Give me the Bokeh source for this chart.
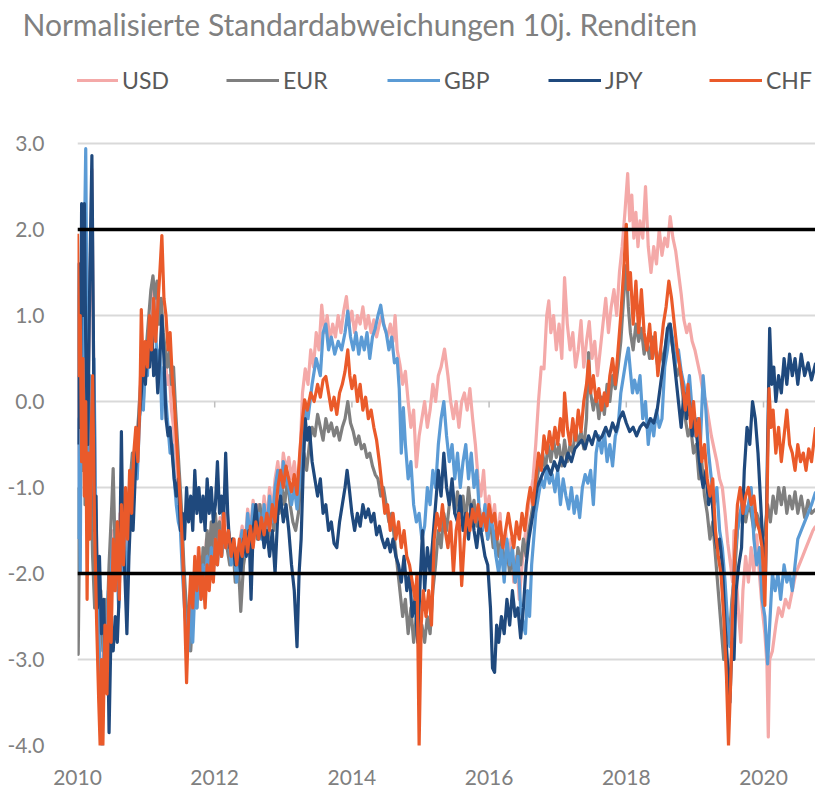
from bokeh.plotting import figure
from bokeh.models import Range1d, FixedTicker, PrintfTickFormatter, Legend, LegendItem, Span
from bokeh.embed import file_html
from bokeh.resources import INLINE

title_text = "Normalisierte Standardabweichungen 10j. Renditen"
currencies = ["USD", "EUR", "GBP", "JPY", "CHF"]
colors = ["#F4A9A8", "#7F7F7F", "#5B9BD5", "#1F497D", "#EA5A2A"]
y_ticks = [-4, -3, -2, -1, 0, 1, 2, 3]
x_ticks = [2010, 2012, 2014, 2016, 2018, 2020]
thresholds = [2.0, -2.0]

usd = [(2010.00,0.3),(2010.03,-1.2),(2010.06,1.0),(2010.09,-0.8),(2010.12,1.5),(2010.15,0.0),(2010.18,1.2),(2010.21,2.7),(2010.23,0.8),(2010.26,-1.0),(2010.29,-2.0),(2010.32,-3.0),(2010.35,-3.6),(2010.38,-2.8),(2010.41,-3.3),(2010.44,-2.4),(2010.47,-2.0),(2010.50,-1.5),(2010.53,-2.1),(2010.56,-1.6),(2010.59,-2.2),(2010.62,-1.3),(2010.65,-1.8),(2010.68,-1.2),(2010.71,-1.7),(2010.74,-1.1),(2010.77,-0.9),(2010.80,-1.2),(2010.83,-0.6),(2010.86,-0.8),(2010.89,-0.2),(2010.92,0.3),(2010.95,0.0),(2010.98,0.6),(2011.01,0.4),(2011.04,0.9),(2011.07,0.7),(2011.10,1.3),(2011.13,1.0),(2011.16,1.3),(2011.19,0.9),(2011.22,1.1),(2011.25,0.7),(2011.28,0.5),(2011.31,0.2),(2011.34,0.3),(2011.37,-0.1),(2011.40,-0.3),(2011.43,-0.6),(2011.46,-0.9),(2011.49,-1.2),(2011.52,-1.6),(2011.55,-2.1),(2011.58,-2.6),(2011.61,-2.8),(2011.64,-2.4),(2011.67,-2.7),(2011.70,-2.1),(2011.73,-2.3),(2011.76,-1.7),(2011.79,-2.1),(2011.82,-1.8),(2011.85,-2.0),(2011.88,-1.6),(2011.91,-1.9),(2011.94,-1.5),(2011.97,-1.8),(2012.00,-1.4),(2012.04,-1.7),(2012.08,-1.35),(2012.12,-1.6),(2012.16,-1.3),(2012.20,-1.5),(2012.24,-1.8),(2012.28,-1.6),(2012.32,-2.0),(2012.36,-1.65),(2012.40,-1.45),(2012.44,-1.7),(2012.48,-1.25),(2012.52,-1.5),(2012.56,-1.15),(2012.60,-1.4),(2012.64,-1.2),(2012.68,-1.5),(2012.72,-1.1),(2012.76,-1.4),(2012.80,-1.0),(2012.84,-1.3),(2012.88,-0.9),(2012.92,-0.7),(2012.96,-1.0),(2013.00,-0.6),(2013.04,-0.8),(2013.08,-0.65),(2013.12,-0.9),(2013.16,-0.7),(2013.20,-1.0),(2013.24,-0.7),(2013.28,0.1),(2013.32,0.38),(2013.36,0.2),(2013.40,0.6),(2013.44,0.4),(2013.48,0.8),(2013.52,0.6),(2013.56,1.12),(2013.60,0.8),(2013.64,1.0),(2013.68,0.7),(2013.72,0.9),(2013.76,0.75),(2013.80,1.0),(2013.84,0.8),(2013.88,1.05),(2013.92,1.22),(2013.96,0.9),(2014.00,1.05),(2014.04,0.8),(2014.08,1.0),(2014.12,0.9),(2014.16,1.1),(2014.20,0.85),(2014.24,1.0),(2014.28,0.8),(2014.32,0.95),(2014.36,0.75),(2014.40,0.9),(2014.44,1.0),(2014.48,0.85),(2014.52,0.75),(2014.56,0.9),(2014.60,0.7),(2014.63,1.0),(2014.66,0.6),(2014.70,0.43),(2014.74,0.2),(2014.78,0.35),(2014.82,0.0),(2014.86,-0.3),(2014.90,-0.1),(2014.94,-0.76),(2014.98,-0.4),(2015.02,-0.2),(2015.06,0.0),(2015.10,-0.3),(2015.14,-0.1),(2015.18,0.2),(2015.22,0.0),(2015.26,0.3),(2015.30,0.4),(2015.35,0.61),(2015.40,0.3),(2015.44,0.0),(2015.48,-0.2),(2015.52,0.0),(2015.56,-0.3),(2015.60,0.0),(2015.64,0.1),(2015.68,-0.1),(2015.72,0.15),(2015.76,-0.2),(2015.80,-0.5),(2015.84,-0.9),(2015.88,-1.1),(2015.92,-0.8),(2015.96,-1.3),(2016.00,-1.1),(2016.04,-1.4),(2016.08,-1.2),(2016.12,-1.6),(2016.16,-1.3),(2016.20,-1.8),(2016.24,-1.5),(2016.28,-1.9),(2016.32,-1.6),(2016.36,-2.1),(2016.40,-1.8),(2016.44,-2.3),(2016.48,-1.9),(2016.52,-1.6),(2016.56,-1.3),(2016.60,-1.1),(2016.64,-0.9),(2016.68,-0.5),(2016.72,0.0),(2016.76,0.4),(2016.80,0.38),(2016.84,1.0),(2016.87,1.17),(2016.90,0.8),(2016.94,1.0),(2016.98,0.6),(2017.02,0.9),(2017.06,0.5),(2017.10,1.44),(2017.14,0.9),(2017.18,0.6),(2017.22,0.8),(2017.26,0.4),(2017.30,0.6),(2017.34,0.94),(2017.38,0.4),(2017.42,0.7),(2017.46,0.93),(2017.50,0.5),(2017.54,0.7),(2017.58,0.3),(2017.62,0.6),(2017.66,0.9),(2017.70,1.2),(2017.74,0.8),(2017.78,1.1),(2017.82,1.3),(2017.86,1.0),(2017.90,1.5),(2017.94,1.8),(2017.98,2.2),(2018.02,2.65),(2018.05,2.1),(2018.08,2.4),(2018.11,1.9),(2018.14,2.2),(2018.17,1.8),(2018.20,2.1),(2018.24,1.9),(2018.28,2.5),(2018.32,1.8),(2018.36,1.5),(2018.40,1.8),(2018.44,1.6),(2018.48,2.0),(2018.52,1.7),(2018.56,1.9),(2018.60,1.8),(2018.64,2.15),(2018.68,1.9),(2018.72,1.75),(2018.76,1.5),(2018.80,1.25),(2018.84,0.95),(2018.88,0.8),(2018.92,0.9),(2018.96,0.7),(2019.00,0.6),(2019.04,0.45),(2019.08,0.3),(2019.12,0.1),(2019.16,0.0),(2019.20,-0.2),(2019.24,-0.4),(2019.28,-0.55),(2019.32,-0.7),(2019.36,-0.9),(2019.40,-1.0),(2019.44,-1.3),(2019.48,-1.65),(2019.52,-1.9),(2019.55,-2.1),(2019.57,-1.5),(2019.60,-2.0),(2019.64,-2.5),(2019.67,-2.8),(2019.70,-2.2),(2019.74,-1.8),(2019.78,-2.1),(2019.82,-1.7),(2019.86,-2.0),(2019.90,-1.55),(2019.94,-2.0),(2019.98,-2.4),(2020.02,-2.7),(2020.05,-3.05),(2020.07,-3.9),(2020.09,-3.0),(2020.13,-2.9),(2020.18,-2.6),(2020.22,-2.4),(2020.27,-2.5),(2020.32,-2.3),(2020.37,-2.4),(2020.42,-2.2),(2020.47,-2.0),(2020.52,-1.9),(2020.57,-1.8),(2020.62,-1.7),(2020.67,-1.6),(2020.72,-1.5),(2020.76,-1.45)]

eur = [(2010.00,-1.0),(2010.01,-2.94),(2010.03,-1.5),(2010.05,0.5),(2010.07,-0.8),(2010.09,0.8),(2010.11,-1.2),(2010.13,0.0),(2010.16,-1.5),(2010.19,-0.6),(2010.22,-1.8),(2010.25,-2.4),(2010.28,-2.0),(2010.31,-2.8),(2010.34,-2.2),(2010.37,-2.9),(2010.40,-2.3),(2010.43,-2.6),(2010.46,-1.9),(2010.50,-1.2),(2010.52,-0.78),(2010.55,-1.8),(2010.58,-1.4),(2010.61,-2.0),(2010.64,-1.3),(2010.67,-1.7),(2010.70,-1.1),(2010.73,-1.5),(2010.76,-1.0),(2010.80,-0.6),(2010.84,-0.9),(2010.88,-0.3),(2010.92,0.2),(2010.96,0.0),(2011.00,0.6),(2011.04,1.0),(2011.07,1.3),(2011.10,1.46),(2011.13,1.2),(2011.16,1.4),(2011.19,0.9),(2011.22,1.2),(2011.25,0.8),(2011.28,0.6),(2011.31,0.4),(2011.34,0.6),(2011.37,0.2),(2011.40,0.4),(2011.43,-0.1),(2011.46,-0.5),(2011.49,-0.9),(2011.52,-1.3),(2011.55,-1.9),(2011.58,-2.3),(2011.61,-2.6),(2011.65,-2.9),(2011.68,-2.5),(2011.71,-2.1),(2011.74,-2.4),(2011.77,-1.8),(2011.80,-2.2),(2011.83,-1.7),(2011.86,-1.9),(2011.89,-1.5),(2011.92,-1.8),(2011.95,-1.4),(2011.98,-1.7),(2012.01,-1.3),(2012.04,-1.6),(2012.07,-1.4),(2012.10,-1.8),(2012.14,-1.5),(2012.18,-1.7),(2012.22,-1.9),(2012.26,-1.6),(2012.30,-2.1),(2012.34,-1.8),(2012.38,-2.44),(2012.42,-1.9),(2012.46,-1.7),(2012.50,-1.5),(2012.54,-1.8),(2012.58,-1.3),(2012.62,-1.6),(2012.66,-1.2),(2012.70,-1.5),(2012.74,-1.3),(2012.78,-1.6),(2012.82,-1.2),(2012.86,-1.5),(2012.90,-1.1),(2012.94,-1.3),(2012.98,-1.0),(2013.02,-1.2),(2013.06,-0.9),(2013.10,-1.2),(2013.14,-1.4),(2013.18,-1.5),(2013.22,-1.3),(2013.26,-0.9),(2013.30,-0.6),(2013.34,-0.8),(2013.38,-0.5),(2013.42,-0.3),(2013.46,-0.4),(2013.50,-0.15),(2013.54,-0.3),(2013.58,-0.45),(2013.62,-0.2),(2013.66,-0.35),(2013.70,-0.25),(2013.74,-0.4),(2013.78,-0.3),(2013.82,-0.45),(2013.86,-0.3),(2013.90,-0.2),(2013.94,0.0),(2013.98,-0.25),(2014.02,-0.35),(2014.06,-0.5),(2014.10,-0.4),(2014.14,-0.55),(2014.18,-0.5),(2014.22,-0.65),(2014.26,-0.6),(2014.30,-0.75),(2014.34,-0.85),(2014.38,-0.9),(2014.42,-1.1),(2014.46,-1.0),(2014.50,-1.2),(2014.54,-1.4),(2014.58,-1.3),(2014.62,-1.6),(2014.66,-1.9),(2014.70,-2.2),(2014.74,-2.5),(2014.78,-2.3),(2014.82,-2.7),(2014.86,-2.4),(2014.90,-2.8),(2014.94,-2.5),(2014.98,-2.87),(2015.02,-2.6),(2015.06,-2.8),(2015.10,-2.5),(2015.14,-2.7),(2015.18,-2.2),(2015.22,-1.9),(2015.26,-1.5),(2015.30,-1.7),(2015.34,-1.3),(2015.38,-1.5),(2015.42,-1.2),(2015.46,-1.0),(2015.50,-1.3),(2015.54,-1.05),(2015.58,-1.35),(2015.62,-1.1),(2015.66,-1.4),(2015.70,-1.0),(2015.74,-1.3),(2015.78,-1.15),(2015.82,-1.45),(2015.86,-1.25),(2015.90,-1.5),(2015.94,-1.3),(2015.98,-1.6),(2016.02,-1.4),(2016.06,-1.7),(2016.10,-1.5),(2016.14,-1.8),(2016.18,-1.6),(2016.22,-1.9),(2016.26,-1.7),(2016.30,-2.0),(2016.34,-1.8),(2016.38,-2.1),(2016.42,-1.7),(2016.46,-1.9),(2016.50,-1.6),(2016.54,-1.8),(2016.58,-1.5),(2016.62,-1.3),(2016.66,-1.1),(2016.70,-0.9),(2016.74,-0.7),(2016.78,-0.6),(2016.82,-0.8),(2016.86,-0.5),(2016.90,-0.7),(2016.94,-0.45),(2016.98,-0.65),(2017.02,-0.5),(2017.06,-0.75),(2017.10,-0.45),(2017.14,-0.7),(2017.18,-0.5),(2017.22,-0.6),(2017.26,-0.3),(2017.30,-0.5),(2017.34,-0.35),(2017.38,-0.55),(2017.42,-0.2),(2017.45,0.57),(2017.48,0.1),(2017.52,-0.1),(2017.56,0.1),(2017.60,-0.2),(2017.64,0.05),(2017.68,-0.15),(2017.72,0.2),(2017.76,0.0),(2017.80,0.3),(2017.84,0.15),(2017.88,0.4),(2017.92,0.7),(2017.96,1.2),(2018.00,1.58),(2018.03,1.1),(2018.06,0.8),(2018.10,0.6),(2018.14,0.9),(2018.18,0.7),(2018.22,0.85),(2018.26,0.55),(2018.30,0.7),(2018.34,0.5),(2018.38,0.75),(2018.42,0.6),(2018.46,0.4),(2018.50,0.6),(2018.54,0.45),(2018.58,0.7),(2018.62,0.9),(2018.66,0.7),(2018.70,0.5),(2018.74,0.3),(2018.78,0.4),(2018.82,0.1),(2018.86,-0.2),(2018.90,-0.4),(2018.94,-0.3),(2018.98,-0.6),(2019.02,-0.5),(2019.06,-0.9),(2019.10,-0.7),(2019.14,-1.1),(2019.18,-1.3),(2019.22,-1.6),(2019.26,-1.4),(2019.30,-1.8),(2019.34,-2.2),(2019.38,-2.6),(2019.42,-3.0),(2019.46,-2.5),(2019.50,-2.8),(2019.54,-2.3),(2019.58,-2.0),(2019.62,-1.5),(2019.66,-1.3),(2019.70,-1.2),(2019.74,-1.4),(2019.78,-1.2),(2019.82,-1.3),(2019.86,-1.5),(2019.90,-1.3),(2019.94,-1.4),(2019.98,-1.6),(2020.02,-1.5),(2020.06,-1.2),(2020.10,-1.4),(2020.14,-1.1),(2020.18,-1.3),(2020.22,-1.0),(2020.26,-1.2),(2020.30,-1.0),(2020.34,-1.3),(2020.38,-1.1),(2020.42,-1.25),(2020.46,-1.05),(2020.50,-1.3),(2020.55,-1.1),(2020.60,-1.35),(2020.65,-1.15),(2020.70,-1.3),(2020.76,-1.25)]

gbp = [(2010.00,-1.6),(2010.02,-0.2),(2010.04,-2.0),(2010.06,1.0),(2010.08,-0.5),(2010.10,1.8),(2010.12,2.94),(2010.14,0.6),(2010.16,-1.0),(2010.18,0.3),(2010.21,-0.8),(2010.24,0.5),(2010.27,-1.6),(2010.30,-2.3),(2010.33,-3.2),(2010.36,-4.0),(2010.39,-2.6),(2010.42,-3.0),(2010.45,-2.2),(2010.48,-2.5),(2010.51,-1.6),(2010.54,-2.2),(2010.57,-1.8),(2010.60,-2.4),(2010.63,-1.4),(2010.66,-2.0),(2010.69,-1.5),(2010.72,-2.4),(2010.75,-1.6),(2010.78,-1.0),(2010.81,-1.3),(2010.84,-0.7),(2010.87,-0.9),(2010.90,-0.3),(2010.93,0.2),(2010.96,-0.1),(2010.99,0.5),(2011.02,0.3),(2011.05,0.9),(2011.08,0.6),(2011.11,1.2),(2011.14,0.8),(2011.17,0.3),(2011.20,0.6),(2011.23,-0.2),(2011.26,0.4),(2011.29,0.0),(2011.32,-0.3),(2011.35,-0.6),(2011.38,-0.5),(2011.41,-0.9),(2011.44,-1.2),(2011.47,-1.4),(2011.50,-1.5),(2011.53,-2.0),(2011.56,-2.4),(2011.59,-2.7),(2011.62,-2.9),(2011.65,-2.3),(2011.68,-2.8),(2011.71,-2.2),(2011.74,-2.4),(2011.77,-1.9),(2011.80,-2.3),(2011.83,-1.9),(2011.86,-2.2),(2011.89,-1.8),(2011.92,-2.1),(2011.95,-1.7),(2011.98,-2.0),(2012.01,-1.6),(2012.04,-1.9),(2012.07,-1.5),(2012.10,-1.8),(2012.13,-1.4),(2012.16,-1.7),(2012.20,-1.5),(2012.24,-1.9),(2012.28,-1.7),(2012.32,-2.1),(2012.36,-1.7),(2012.40,-1.5),(2012.44,-1.8),(2012.48,-1.3),(2012.52,-1.6),(2012.56,-1.2),(2012.60,-1.5),(2012.64,-1.3),(2012.68,-1.6),(2012.72,-1.2),(2012.76,-1.5),(2012.80,-1.1),(2012.84,-1.4),(2012.88,-1.0),(2012.92,-0.8),(2012.96,-1.1),(2013.00,-0.7),(2013.04,-0.9),(2013.08,-1.0),(2013.12,-1.2),(2013.16,-1.0),(2013.20,-1.25),(2013.24,-0.9),(2013.28,-0.3),(2013.32,-0.07),(2013.36,-0.2),(2013.42,0.2),(2013.48,0.5),(2013.54,0.3),(2013.58,0.8),(2013.62,0.9),(2013.66,0.6),(2013.70,0.75),(2013.75,0.55),(2013.80,0.7),(2013.85,0.6),(2013.90,0.8),(2013.94,1.05),(2013.98,0.75),(2014.02,0.6),(2014.06,0.8),(2014.10,0.55),(2014.14,0.75),(2014.18,0.6),(2014.22,0.8),(2014.26,0.5),(2014.30,0.75),(2014.34,0.85),(2014.38,1.0),(2014.42,1.12),(2014.46,0.9),(2014.50,0.8),(2014.54,0.6),(2014.58,0.75),(2014.62,0.45),(2014.66,0.5),(2014.69,0.15),(2014.72,-0.6),(2014.75,-0.07),(2014.78,-0.5),(2014.82,-0.9),(2014.86,-0.7),(2014.90,-1.2),(2014.94,-1.4),(2014.98,-1.3),(2015.02,-1.6),(2015.06,-1.45),(2015.10,-1.0),(2015.14,-1.2),(2015.18,-0.8),(2015.22,-1.0),(2015.26,-0.5),(2015.30,-0.2),(2015.34,0.0),(2015.38,-0.4),(2015.42,-0.7),(2015.46,-0.5),(2015.50,-0.9),(2015.54,-0.6),(2015.58,-1.0),(2015.62,-0.7),(2015.66,-0.5),(2015.70,-0.9),(2015.74,-0.6),(2015.78,-1.0),(2015.82,-0.8),(2015.86,-1.3),(2015.90,-1.5),(2015.94,-1.2),(2015.98,-1.6),(2016.02,-1.3),(2016.06,-1.5),(2016.10,-1.8),(2016.14,-2.0),(2016.18,-1.7),(2016.22,-2.1),(2016.26,-1.6),(2016.30,-1.9),(2016.34,-1.7),(2016.38,-2.1),(2016.42,-1.8),(2016.46,-2.4),(2016.50,-2.6),(2016.53,-2.7),(2016.56,-2.2),(2016.59,-2.5),(2016.62,-1.9),(2016.65,-1.6),(2016.68,-1.3),(2016.72,-1.1),(2016.76,-0.9),(2016.80,-1.0),(2016.84,-0.8),(2016.88,-0.95),(2016.92,-0.85),(2016.96,-1.05),(2017.00,-0.8),(2017.04,-1.2),(2017.08,-0.9),(2017.12,-1.1),(2017.16,-1.25),(2017.20,-1.0),(2017.24,-1.3),(2017.28,-1.1),(2017.32,-1.35),(2017.36,-1.0),(2017.40,-0.85),(2017.44,-0.95),(2017.48,-0.8),(2017.52,-1.2),(2017.56,-0.6),(2017.60,-0.4),(2017.64,-0.6),(2017.68,-0.35),(2017.72,-0.7),(2017.76,-0.5),(2017.80,-0.75),(2017.84,-0.4),(2017.88,-0.3),(2017.92,0.1),(2017.96,0.3),(2018.00,0.5),(2018.03,0.62),(2018.06,0.35),(2018.09,0.1),(2018.12,0.25),(2018.16,0.1),(2018.20,0.3),(2018.24,-0.2),(2018.28,0.0),(2018.32,-0.5),(2018.36,-0.2),(2018.40,-0.4),(2018.44,-0.1),(2018.48,-0.3),(2018.52,-0.2),(2018.56,0.4),(2018.60,0.6),(2018.64,0.9),(2018.68,0.7),(2018.72,0.45),(2018.76,0.6),(2018.80,0.35),(2018.84,0.2),(2018.88,0.0),(2018.92,0.3),(2018.96,-0.1),(2019.00,-0.4),(2019.04,-0.2),(2019.08,-0.5),(2019.12,0.3),(2019.16,-0.1),(2019.20,-0.6),(2019.24,-0.9),(2019.28,-1.2),(2019.32,-1.0),(2019.36,-1.5),(2019.40,-1.7),(2019.44,-2.1),(2019.48,-2.6),(2019.51,-2.85),(2019.55,-2.3),(2019.58,-1.8),(2019.62,-1.5),(2019.66,-1.3),(2019.70,-1.1),(2019.74,-1.3),(2019.78,-1.2),(2019.82,-1.0),(2019.86,-1.6),(2019.90,-1.9),(2019.94,-1.7),(2019.98,-2.3),(2020.02,-2.5),(2020.06,-3.05),(2020.09,-2.6),(2020.13,-2.0),(2020.17,-2.2),(2020.21,-2.0),(2020.25,-2.3),(2020.30,-1.9),(2020.34,-2.1),(2020.38,-2.0),(2020.42,-2.2),(2020.46,-1.9),(2020.50,-1.6),(2020.55,-1.5),(2020.60,-1.4),(2020.65,-1.3),(2020.70,-1.2),(2020.76,-1.05)]

jpy = [(2010.00,-0.5),(2010.02,1.6),(2010.04,-0.3),(2010.06,2.3),(2010.08,1.0),(2010.10,2.3),(2010.12,0.7),(2010.15,-0.5),(2010.18,1.5),(2010.21,2.86),(2010.23,1.0),(2010.25,-1.5),(2010.27,-1.1),(2010.29,-2.4),(2010.32,-1.8),(2010.35,-2.7),(2010.38,-2.3),(2010.41,-3.2),(2010.44,-2.7),(2010.46,-3.85),(2010.49,-2.6),(2010.52,-2.9),(2010.55,-2.5),(2010.58,-2.8),(2010.61,-2.2),(2010.64,-0.35),(2010.66,-1.5),(2010.69,-2.0),(2010.72,-2.7),(2010.75,-1.8),(2010.78,-1.2),(2010.81,-1.5),(2010.84,-0.9),(2010.87,-0.5),(2010.90,-0.2),(2010.93,0.1),(2010.96,0.5),(2010.99,0.2),(2011.02,0.7),(2011.05,0.4),(2011.08,0.9),(2011.11,0.3),(2011.14,0.6),(2011.17,0.1),(2011.20,0.5),(2011.23,1.0),(2011.26,0.5),(2011.29,-0.2),(2011.32,-0.4),(2011.35,-0.3),(2011.38,-0.6),(2011.41,-0.9),(2011.44,-1.1),(2011.47,-0.9),(2011.50,-1.5),(2011.53,-1.3),(2011.56,-1.6),(2011.59,-1.0),(2011.62,-1.4),(2011.65,-1.1),(2011.68,-1.5),(2011.71,-0.8),(2011.74,-1.3),(2011.77,-1.0),(2011.80,-1.4),(2011.83,-1.1),(2011.86,-1.5),(2011.89,-0.9),(2011.92,-1.3),(2011.95,-1.0),(2011.98,-1.4),(2012.01,-1.2),(2012.04,-0.7),(2012.07,-1.3),(2012.10,-1.1),(2012.13,-1.4),(2012.16,-0.6),(2012.19,-1.3),(2012.22,-1.7),(2012.26,-1.6),(2012.30,-1.9),(2012.34,-1.7),(2012.38,-2.0),(2012.42,-1.6),(2012.46,-1.8),(2012.50,-1.5),(2012.53,-2.3),(2012.56,-1.5),(2012.60,-1.2),(2012.64,-1.6),(2012.68,-1.4),(2012.72,-1.7),(2012.76,-1.5),(2012.80,-1.8),(2012.84,-1.5),(2012.88,-2.0),(2012.92,-1.3),(2012.96,-1.1),(2013.00,-1.4),(2013.04,-1.2),(2013.08,-1.5),(2013.12,-1.9),(2013.16,-2.2),(2013.20,-2.85),(2013.23,-2.0),(2013.26,-1.6),(2013.29,-0.8),(2013.32,-0.2),(2013.35,-0.45),(2013.38,-0.3),(2013.42,-0.7),(2013.46,-0.9),(2013.50,-1.1),(2013.54,-0.9),(2013.58,-1.3),(2013.62,-1.2),(2013.66,-1.5),(2013.70,-1.4),(2013.74,-1.65),(2013.78,-1.7),(2013.82,-1.4),(2013.86,-1.2),(2013.90,-1.0),(2013.93,-0.8),(2013.96,-1.0),(2014.00,-1.3),(2014.04,-1.5),(2014.08,-1.3),(2014.12,-1.45),(2014.16,-1.2),(2014.20,-1.35),(2014.24,-1.25),(2014.28,-1.4),(2014.32,-1.3),(2014.36,-1.55),(2014.40,-1.45),(2014.44,-1.6),(2014.48,-1.7),(2014.52,-1.6),(2014.56,-1.75),(2014.60,-1.6),(2014.64,-1.8),(2014.68,-1.9),(2014.72,-2.1),(2014.76,-1.8),(2014.80,-2.2),(2014.84,-2.0),(2014.88,-2.5),(2014.92,-2.3),(2014.96,-2.8),(2015.00,-2.0),(2015.03,-1.5),(2015.06,-2.2),(2015.10,-1.7),(2015.14,-2.0),(2015.18,-1.6),(2015.22,-1.2),(2015.26,-0.8),(2015.30,-1.1),(2015.34,-0.6),(2015.38,-1.0),(2015.42,-1.2),(2015.46,-0.9),(2015.50,-1.3),(2015.54,-1.4),(2015.58,-1.1),(2015.62,-1.5),(2015.66,-1.3),(2015.70,-1.6),(2015.74,-1.2),(2015.78,-1.5),(2015.82,-1.7),(2015.86,-1.4),(2015.90,-1.6),(2015.94,-1.8),(2015.98,-1.9),(2016.02,-2.4),(2016.05,-3.1),(2016.08,-3.15),(2016.11,-2.6),(2016.14,-2.8),(2016.18,-2.5),(2016.22,-2.7),(2016.26,-2.3),(2016.30,-2.6),(2016.34,-2.2),(2016.38,-2.5),(2016.42,-2.4),(2016.46,-2.75),(2016.50,-2.4),(2016.54,-1.9),(2016.58,-1.6),(2016.62,-1.4),(2016.66,-1.2),(2016.70,-1.0),(2016.75,-0.9),(2016.80,-0.8),(2016.85,-0.75),(2016.90,-0.85),(2016.95,-0.7),(2017.00,-0.8),(2017.05,-0.65),(2017.10,-0.75),(2017.15,-0.6),(2017.20,-0.7),(2017.25,-0.55),(2017.30,-0.5),(2017.35,-0.45),(2017.40,-0.55),(2017.45,-0.4),(2017.50,-0.5),(2017.55,-0.35),(2017.60,-0.45),(2017.65,-0.4),(2017.70,-0.3),(2017.75,-0.4),(2017.80,-0.25),(2017.85,-0.35),(2017.90,-0.2),(2017.95,-0.12),(2018.00,-0.25),(2018.05,-0.35),(2018.10,-0.3),(2018.15,-0.4),(2018.20,-0.3),(2018.25,-0.25),(2018.30,-0.3),(2018.35,-0.2),(2018.40,-0.25),(2018.45,-0.1),(2018.50,0.2),(2018.55,0.5),(2018.60,0.85),(2018.64,0.9),(2018.68,0.6),(2018.72,0.3),(2018.76,0.0),(2018.80,-0.3),(2018.84,0.1),(2018.88,-0.2),(2018.92,0.0),(2018.96,-0.4),(2019.00,-0.2),(2019.04,-0.5),(2019.08,-0.8),(2019.12,-1.0),(2019.16,-0.8),(2019.20,-1.2),(2019.24,-1.0),(2019.28,-1.5),(2019.32,-1.7),(2019.36,-1.6),(2019.40,-1.9),(2019.44,-2.6),(2019.48,-3.1),(2019.51,-3.5),(2019.54,-2.8),(2019.57,-3.0),(2019.60,-2.2),(2019.64,-1.9),(2019.68,-1.7),(2019.72,-0.8),(2019.76,-0.3),(2019.80,-0.5),(2019.84,0.0),(2019.88,-0.2),(2019.92,-0.6),(2019.96,-1.2),(2020.00,-1.8),(2020.03,-2.0),(2020.06,-0.5),(2020.09,0.85),(2020.12,0.2),(2020.15,0.4),(2020.18,0.0),(2020.22,0.3),(2020.26,0.1),(2020.30,0.5),(2020.34,0.2),(2020.38,0.55),(2020.42,0.3),(2020.46,0.5),(2020.50,0.2),(2020.55,0.55),(2020.60,0.3),(2020.65,0.45),(2020.70,0.25),(2020.76,0.45)]

chf = [(2010.00,1.95),(2010.02,0.3),(2010.04,1.0),(2010.06,-0.7),(2010.08,0.5),(2010.10,-1.1),(2010.12,0.0),(2010.14,-2.3),(2010.16,-0.6),(2010.18,-1.6),(2010.20,-0.4),(2010.22,0.3),(2010.25,-1.5),(2010.28,-2.6),(2010.31,-3.5),(2010.33,-4.0),(2010.35,-3.0),(2010.37,-4.0),(2010.40,-2.6),(2010.43,-3.4),(2010.46,-2.0),(2010.49,-2.8),(2010.52,-1.6),(2010.55,-2.2),(2010.58,-1.4),(2010.61,-2.3),(2010.64,-1.2),(2010.67,-1.9),(2010.70,-1.0),(2010.73,-1.6),(2010.76,-0.8),(2010.79,-1.3),(2010.82,-0.6),(2010.85,-0.3),(2010.88,-0.7),(2010.91,0.0),(2010.93,1.07),(2010.96,0.3),(2010.99,0.7),(2011.02,0.4),(2011.05,1.0),(2011.08,0.6),(2011.11,1.2),(2011.14,0.7),(2011.17,1.1),(2011.20,1.5),(2011.23,1.93),(2011.26,1.2),(2011.29,1.0),(2011.32,0.6),(2011.35,0.8),(2011.38,0.3),(2011.41,0.0),(2011.44,-0.4),(2011.47,-0.8),(2011.50,-1.2),(2011.53,-1.7),(2011.56,-2.4),(2011.59,-3.27),(2011.62,-2.5),(2011.65,-2.0),(2011.68,-2.4),(2011.71,-1.8),(2011.74,-2.2),(2011.77,-1.7),(2011.80,-2.3),(2011.83,-2.0),(2011.86,-2.4),(2011.89,-1.9),(2011.92,-2.2),(2011.95,-1.8),(2011.98,-2.1),(2012.01,-1.6),(2012.04,-1.9),(2012.07,-1.5),(2012.10,-1.8),(2012.13,-1.3),(2012.16,-1.7),(2012.20,-1.5),(2012.24,-1.8),(2012.28,-1.6),(2012.32,-1.9),(2012.36,-1.6),(2012.40,-1.8),(2012.44,-1.5),(2012.48,-1.75),(2012.52,-1.45),(2012.56,-1.7),(2012.60,-1.4),(2012.64,-1.6),(2012.68,-1.35),(2012.72,-1.55),(2012.76,-1.3),(2012.80,-1.5),(2012.84,-1.2),(2012.88,-1.4),(2012.92,-1.0),(2012.96,-0.8),(2013.00,-1.0),(2013.04,-0.75),(2013.08,-0.9),(2013.12,-1.05),(2013.16,-0.85),(2013.20,-1.08),(2013.24,-0.6),(2013.28,-0.2),(2013.31,0.02),(2013.35,-0.1),(2013.40,0.1),(2013.45,0.0),(2013.50,0.2),(2013.54,0.05),(2013.58,0.25),(2013.62,0.29),(2013.66,0.1),(2013.70,-0.1),(2013.74,0.05),(2013.78,-0.15),(2013.82,0.1),(2013.86,0.2),(2013.90,0.35),(2013.94,0.6),(2013.97,0.3),(2014.00,0.15),(2014.04,0.3),(2014.08,0.0),(2014.12,0.2),(2014.16,-0.1),(2014.20,0.05),(2014.24,-0.2),(2014.28,-0.1),(2014.32,-0.3),(2014.36,-0.45),(2014.40,-0.7),(2014.44,-1.0),(2014.48,-1.3),(2014.52,-1.2),(2014.56,-1.5),(2014.60,-1.3),(2014.64,-1.6),(2014.68,-1.4),(2014.72,-1.7),(2014.76,-1.5),(2014.80,-1.8),(2014.84,-1.9),(2014.88,-2.1),(2014.92,-2.3),(2014.95,-2.0),(2014.98,-4.0),(2015.01,-2.6),(2015.04,-2.2),(2015.08,-2.5),(2015.12,-2.2),(2015.16,-2.6),(2015.20,-1.6),(2015.24,-1.3),(2015.28,-1.5),(2015.32,-1.2),(2015.36,-1.5),(2015.40,-1.7),(2015.44,-1.4),(2015.48,-2.0),(2015.52,-1.5),(2015.56,-1.3),(2015.60,-2.14),(2015.64,-1.6),(2015.68,-1.3),(2015.72,-1.5),(2015.76,-1.25),(2015.80,-1.4),(2015.84,-1.2),(2015.88,-1.45),(2015.92,-1.3),(2015.96,-1.5),(2016.00,-1.2),(2016.04,-1.4),(2016.08,-1.3),(2016.12,-1.6),(2016.16,-1.4),(2016.20,-1.7),(2016.24,-1.5),(2016.28,-1.3),(2016.32,-1.5),(2016.36,-1.7),(2016.40,-1.4),(2016.44,-1.6),(2016.48,-1.3),(2016.52,-1.5),(2016.56,-1.2),(2016.60,-1.0),(2016.64,-1.2),(2016.68,-0.9),(2016.72,-0.6),(2016.76,-0.8),(2016.80,-0.4),(2016.84,-0.6),(2016.88,-0.35),(2016.92,-0.55),(2016.96,-0.3),(2017.00,-0.5),(2017.04,-0.2),(2017.08,-0.4),(2017.10,0.1),(2017.14,-0.3),(2017.18,-0.5),(2017.22,-0.2),(2017.26,-0.45),(2017.30,-0.1),(2017.34,-0.35),(2017.38,0.0),(2017.42,0.2),(2017.45,0.47),(2017.48,0.1),(2017.52,0.3),(2017.56,0.0),(2017.60,0.15),(2017.64,-0.1),(2017.68,0.1),(2017.72,-0.05),(2017.76,0.3),(2017.80,0.5),(2017.84,0.2),(2017.88,0.6),(2017.92,1.0),(2017.96,1.5),(2018.00,2.06),(2018.03,1.3),(2018.06,1.5),(2018.10,0.9),(2018.14,1.4),(2018.18,0.8),(2018.22,1.3),(2018.26,0.8),(2018.30,0.6),(2018.34,0.9),(2018.38,0.5),(2018.42,0.8),(2018.46,0.3),(2018.50,0.6),(2018.54,0.9),(2018.58,1.1),(2018.62,1.4),(2018.66,1.2),(2018.70,0.9),(2018.74,0.6),(2018.78,0.4),(2018.82,0.2),(2018.86,-0.1),(2018.90,0.2),(2018.94,-0.3),(2018.98,0.0),(2019.02,-0.4),(2019.06,-0.2),(2019.10,-0.7),(2019.14,-0.5),(2019.18,-0.9),(2019.22,-1.1),(2019.26,-0.9),(2019.30,-1.5),(2019.34,-1.8),(2019.38,-2.0),(2019.42,-2.5),(2019.46,-3.2),(2019.49,-4.0),(2019.52,-3.3),(2019.55,-2.4),(2019.58,-1.8),(2019.62,-1.2),(2019.66,-1.0),(2019.70,-1.3),(2019.74,-1.1),(2019.78,-1.0),(2019.82,-1.2),(2019.86,-1.1),(2019.90,-1.4),(2019.94,-1.5),(2019.98,-1.7),(2020.02,-2.37),(2020.05,-1.2),(2020.08,0.15),(2020.11,-0.3),(2020.14,-0.1),(2020.18,-0.6),(2020.22,-0.3),(2020.26,-0.7),(2020.30,-0.4),(2020.34,-0.1),(2020.38,-0.5),(2020.42,-0.6),(2020.46,-0.8),(2020.50,-0.5),(2020.54,-0.7),(2020.58,-0.6),(2020.62,-0.8),(2020.66,-0.55),(2020.70,-0.7),(2020.73,-0.5),(2020.76,-0.3)]

series = [usd, eur, gbp, jpy, chf]

# ---- layout (pixels) ----
W, H = 815, 791
LEFT, TOP, BOTTOM = 77, 48, 46
PX_PER_UNIT = 86.0
PX_PER_YEAR = 68.6
frame_w = W - LEFT
frame_h = H - TOP - BOTTOM
x0, y0 = x_ticks[0], y_ticks[0]

FONT = "Lato"
p = figure(width=W, height=H, output_backend="svg", toolbar_location=None,
           x_range=Range1d(x0, x0 + frame_w / PX_PER_YEAR),
           y_range=Range1d(y0, y0 + frame_h / PX_PER_UNIT),
           min_border_left=LEFT, min_border_top=TOP, min_border_bottom=BOTTOM,
           min_border_right=0, outline_line_color=None, title=title_text)

p.title.text_font = FONT
p.title.text_font_size = "30px"
p.title.text_font_style = "normal"
p.title.text_color = "#808080"
p.title.align = "left"
p.title.vertical_align = "top"
p.title.offset = -55
p.title.standoff = 10

p.xgrid.visible = False
p.ygrid.ticker = FixedTicker(ticks=y_ticks)
p.ygrid.grid_line_color = "#D9D9D9"
p.ygrid.grid_line_width = 2

for ax in (p.xaxis[0], p.yaxis[0]):
    ax.axis_line_color = None
    ax.major_tick_line_color = None
    ax.minor_tick_line_color = None
    ax.major_label_text_font = FONT
    ax.major_label_text_font_size = "21px"
    ax.major_label_text_color = "#808080"

p.yaxis[0].ticker = FixedTicker(ticks=y_ticks)
p.yaxis[0].formatter = PrintfTickFormatter(format="%.1f")
p.yaxis[0].major_label_standoff = 27
p.xaxis[0].ticker = FixedTicker(ticks=x_ticks)
p.xaxis[0].formatter = PrintfTickFormatter(format="%d")
p.xaxis[0].major_label_standoff = 18

# small category-axis ticks on the zero line
p.segment(x0=x_ticks[1:], y0=[0] * (len(x_ticks) - 1), x1=x_ticks[1:],
          y1=[-6 / PX_PER_UNIT] * (len(x_ticks) - 1), line_color="#BFBFBF", line_width=1.5)

items = []
for name, col, data in zip(currencies, colors, series):
    xs = [d[0] for d in data]
    ys = [d[1] for d in data]
    r = p.line(xs, ys, line_color=col, line_width=3.2, line_join="round")
    items.append(LegendItem(label=name, renderers=[r]))

for t in thresholds:
    p.add_layout(Span(location=t, dimension="width", line_color="black", line_width=3.5))

legend = Legend(items=items, orientation="horizontal", location=(-12, 651),
                glyph_width=53, glyph_height=20, label_standoff=4, label_width=100,
                spacing=4, padding=0, margin=0, border_line_color=None,
                background_fill_alpha=0, label_text_font=FONT,
                label_text_font_size="23px", label_text_color="#595959")
p.add_layout(legend, "center")

open("out.html", "w").write(file_html(p, INLINE))
